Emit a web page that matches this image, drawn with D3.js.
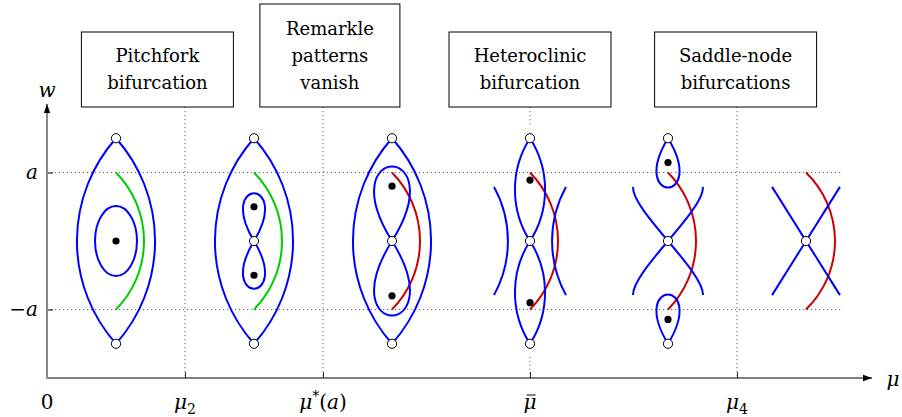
<!DOCTYPE html>
<html>
<head>
<meta charset="utf-8">
<script src="https://cdn.jsdelivr.net/npm/d3@7"></script>
<style>
  body { margin: 0; background: #fff; }
  svg { display: block; }
</style>
</head>
<body>
<svg id="chart" width="902" height="417"></svg>
<script>
// ---- data (mu along the axis, w in units of a) ----
const muTicks = [0, 1, 2, 3.5, 5];
const muLabels = [
  [['0', 'r']],
  [['μ', 'i'], ['2', 'sub']],
  [['μ', 'i'], ['*', 'sup'], ['(', 'r'], ['a', 'i'], [')', 'r']],
  [['μ', 'bar']],
  [['μ', 'i'], ['4', 'sub']]
];
const wTicks = [1, -1];
const wLabels = ['a', '−a'];

const figAt = [0.5, 1.5, 2.5, 3.5, 4.5, 5.5];

const boxAt = [0.8, 2.05, 3.5, 4.99];
const boxText = [
  ['Pitchfork', 'bifurcation'],
  ['Remarkle', 'patterns', 'vanish'],
  ['Heteroclinic', 'bifurcation'],
  ['Saddle-node', 'bifurcations']
];

// circular arcs: figure, w top, w bottom, mu offset of chord, bulge (mu)
const blueArcs = [
  [0, 1.5, -1.5, 0, 0.283], [0, 1.5, -1.5, 0, -0.283],
  [1, 1.5, -1.5, 0, 0.283], [1, 1.5, -1.5, 0, -0.283],
  [2, 1.5, -1.5, 0, 0.283], [2, 1.5, -1.5, 0, -0.283],
  [3, 1.5, 0, 0, 0.109], [3, 1.5, 0, 0, -0.109],
  [3, 0, -1.5, 0, 0.109], [3, 0, -1.5, 0, -0.109],
  [3, 0.79, -0.79, -0.261, 0.101], [3, 0.79, -0.79, 0.261, -0.101]
];
// separatrix-like arcs from w = a to w = -a
const branchFig = [0, 1, 2, 3, 4, 5];
const branchColor = ['green', 'green', 'red', 'red', 'red', 'red'];
const branchBulge = [0.203, 0.203, 0.203, 0.203, 0.203, 0.21];

// closed orbit of figure 1: figure, rx (mu), ry (w)
const ovals = [[0, 0.152, 0.51]];

// homoclinic loops: figure, node w, direction, depth, spread (mu)
const loops = [
  [1, 0, 1, 0.93, 0.277], [1, 0, -1, 0.93, 0.277],
  [2, 0, 1, 1.45, 0.45], [2, 0, -1, 1.45, 0.45],
  [4, 1.5, -1, 0.96, 0.29], [4, -1.5, 1, 0.96, 0.29]
];

// S-shaped separatrices (cubic control points) and straight ones
const sCurves = [
  [4, [[-0.254, 0.79], [-0.254, 0.42], [0.254, -0.42], [0.254, -0.79]]],
  [4, [[0.254, 0.79], [0.254, 0.42], [-0.254, -0.42], [-0.254, -0.79]]]
];
const straight = [
  [5, [[-0.246, 0.79], [0.246, -0.79]]],
  [5, [[0.246, 0.79], [-0.246, -0.79]]]
];

// equilibria: saddles (open) and centres (filled)
const saddles = [
  [0, 1.5], [0, -1.5],
  [1, 1.5], [1, -1.5], [1, 0],
  [2, 1.5], [2, -1.5], [2, 0],
  [3, 1.5], [3, -1.5], [3, 0],
  [4, 1.5], [4, -1.5], [4, 0],
  [5, 0]
];
const centres = [
  [0, 0],
  [1, 0.5], [1, -0.5],
  [2, 0.8], [2, -0.8],
  [3, 0.89], [3, -0.9],
  [4, 1.145], [4, -1.145]
];

// ---- drawing ----
const FONT = "'DejaVu Serif', 'Liberation Serif', serif";
const svg = d3.select('#chart').style('font-family', FONT);
const x = d3.scaleLinear().domain([0, 6]).range([47, 875]);
const y = d3.scaleLinear().domain([-2, 2]).range([378, 104]);
const kx = x(1) - x(0);
const colors = { blue: '#0000ff', green: '#00cc00', red: '#cc0000' };

const defs = svg.append('defs');
defs.append('marker')
  .attr('id', 'arr').attr('viewBox', '0 0 10 10')
  .attr('refX', 10).attr('refY', 5)
  .attr('markerWidth', 9).attr('markerHeight', 9)
  .attr('markerUnits', 'userSpaceOnUse')
  .attr('orient', 'auto')
  .append('path').attr('d', 'M0,1.5 L10,5 L0,8.5 Z').attr('fill', '#000');

const boxBottom = 107;
const dotted = { stroke: '#666', 'stroke-width': 1, 'stroke-dasharray': '1.2 2.8' };
function dot(sel) {
  Object.entries(dotted).forEach(([k, v]) => sel.attr(k, v));
  return sel;
}
function label(xp, yp, size) {
  return svg.append('text').attr('x', xp).attr('y', yp)
    .style('font-family', FONT).attr('font-size', size).attr('fill', '#000');
}

// horizontal guides at w = a, -a
wTicks.forEach(w => {
  dot(svg.append('line')
    .attr('x1', x(0)).attr('x2', x(5.75))
    .attr('y1', y(w)).attr('y2', y(w)));
});

// vertical guides
[1, 2, 5].forEach(m => {
  dot(svg.append('line')
    .attr('x1', x(m)).attr('x2', x(m))
    .attr('y1', boxBottom).attr('y2', y(-2)));
});
dot(svg.append('line').attr('x1', x(3.5)).attr('x2', x(3.5))
  .attr('y1', boxBottom).attr('y2', y(1.68)));
dot(svg.append('line').attr('x1', x(3.5)).attr('x2', x(3.5))
  .attr('y1', y(-1.69)).attr('y2', y(-2)));

// axes
const xAxis = svg.append('g')
  .attr('transform', `translate(0,${y(-2)})`)
  .call(d3.axisBottom(x).tickValues(muTicks.slice(1)).tickSize(-6).tickFormat(''));
xAxis.select('.domain').remove();
xAxis.selectAll('.tick line').attr('stroke', '#333');

const yAxis = svg.append('g')
  .attr('transform', `translate(${x(0)},0)`)
  .call(d3.axisLeft(y).tickValues(wTicks).tickSize(-6).tickFormat(''));
yAxis.select('.domain').remove();
yAxis.selectAll('.tick line').attr('stroke', '#000');

svg.append('line')
  .attr('x1', x(0)).attr('x2', 872)
  .attr('y1', y(-2)).attr('y2', y(-2))
  .attr('stroke', '#000').attr('stroke-width', 1.2)
  .attr('marker-end', 'url(#arr)');
svg.append('line')
  .attr('x1', x(0)).attr('x2', x(0))
  .attr('y1', y(-2) + 0.6).attr('y2', y(2))
  .attr('stroke', '#888').attr('stroke-width', 2)
  .attr('marker-end', 'url(#arr)');

label(893, 386, 20).attr('text-anchor', 'middle')
  .attr('font-style', 'italic').text('μ');
label(x(0), 97, 20).attr('text-anchor', 'middle')
  .attr('font-style', 'italic').text('w');

wTicks.forEach((w, i) => {
  label(38, y(w) + 6, 20).attr('text-anchor', 'end')
    .attr('font-style', 'italic').text(wLabels[i]);
});

muTicks.forEach((m, i) => {
  const t = label(x(m), 409, 20).attr('text-anchor', 'middle');
  let shift = 0;
  muLabels[i].forEach(([s, st]) => {
    const ts = t.append('tspan').text(s);
    if (st === 'i' || st === 'bar') ts.attr('font-style', 'italic');
    if (st === 'sub' || st === 'sup') {
      const d = st === 'sub' ? 5 : -8;
      ts.attr('font-size', 14).attr('dy', d - shift);
      shift = d;
    } else if (shift) {
      ts.attr('dy', -shift);
      shift = 0;
    }
    if (st === 'bar') {
      const b = t.node().getBBox();
      svg.append('line')
        .attr('x1', b.x + 3).attr('x2', b.x + b.width - 1)
        .attr('y1', b.y + 5).attr('y2', b.y + 5)
        .attr('stroke', '#000').attr('stroke-width', 1);
    }
  });
});

// boxes
const boxW = [152, 140, 162, 162];
boxAt.forEach((m, i) => {
  const n = boxText[i].length;
  const h = n === 3 ? 103 : 75;
  const cx = x(m);
  svg.append('rect')
    .attr('x', cx - boxW[i] / 2).attr('y', boxBottom - h)
    .attr('width', boxW[i]).attr('height', h)
    .attr('fill', '#fff').attr('stroke', '#000').attr('stroke-width', 1);
  const top = boxBottom - h / 2 - (n - 1) * 27 / 2;
  boxText[i].forEach((s, j) => {
    label(cx, top + j * 27 + 6, 18).attr('text-anchor', 'middle').text(s);
  });
});

// phase portraits
const curves = svg.append('g').attr('fill', 'none').attr('stroke-width', 2);

function arcD(c, w0, w1, off, bulge) {
  const x0 = x(c + off), y0 = y(w0), y1 = y(w1);
  const L = Math.abs(y1 - y0), s = Math.abs(bulge) * kx;
  const R = (L * L / 4 + s * s) / (2 * s);
  return `M${x0},${y0}A${R},${R} 0 0 ${bulge > 0 ? 1 : 0} ${x0},${y1}`;
}

branchFig.forEach((f, i) => {
  curves.append('path')
    .attr('d', arcD(figAt[f], 1, -1, 0, branchBulge[i]))
    .attr('stroke', colors[branchColor[i]]);
});

blueArcs.forEach(([f, w0, w1, off, b]) => {
  curves.append('path').attr('d', arcD(figAt[f], w0, w1, off, b))
    .attr('stroke', colors.blue);
});

ovals.forEach(([f, rx, ry]) => {
  curves.append('ellipse')
    .attr('cx', x(figAt[f])).attr('cy', y(0))
    .attr('rx', rx * kx).attr('ry', y(0) - y(ry))
    .attr('stroke', colors.blue);
});

loops.forEach(([f, w0, dir, H, cw]) => {
  const c = figAt[f];
  const p = d3.path();
  p.moveTo(x(c), y(w0));
  p.bezierCurveTo(x(c + cw), y(w0 + dir * H), x(c - cw), y(w0 + dir * H), x(c), y(w0));
  curves.append('path').attr('d', p.toString()).attr('stroke', colors.blue);
});

sCurves.forEach(([f, pts]) => {
  const c = figAt[f];
  const q = pts.map(([m, w]) => [x(c + m), y(w)]);
  const p = d3.path();
  p.moveTo(...q[0]);
  p.bezierCurveTo(...q[1], ...q[2], ...q[3]);
  curves.append('path').attr('d', p.toString()).attr('stroke', colors.blue);
});

const line = d3.line();
straight.forEach(([f, pts]) => {
  const c = figAt[f];
  curves.append('path')
    .attr('d', line(pts.map(([m, w]) => [x(c + m), y(w)])))
    .attr('stroke', colors.blue);
});

svg.append('g').selectAll('circle').data(centres).join('circle')
  .attr('cx', d => x(figAt[d[0]])).attr('cy', d => y(d[1]))
  .attr('r', 3.6).attr('fill', '#000');

svg.append('g').selectAll('circle').data(saddles).join('circle')
  .attr('cx', d => x(figAt[d[0]])).attr('cy', d => y(d[1]))
  .attr('r', 4.6).attr('fill', '#fff').attr('stroke', '#000').attr('stroke-width', 1);
</script>
</body>
</html>
